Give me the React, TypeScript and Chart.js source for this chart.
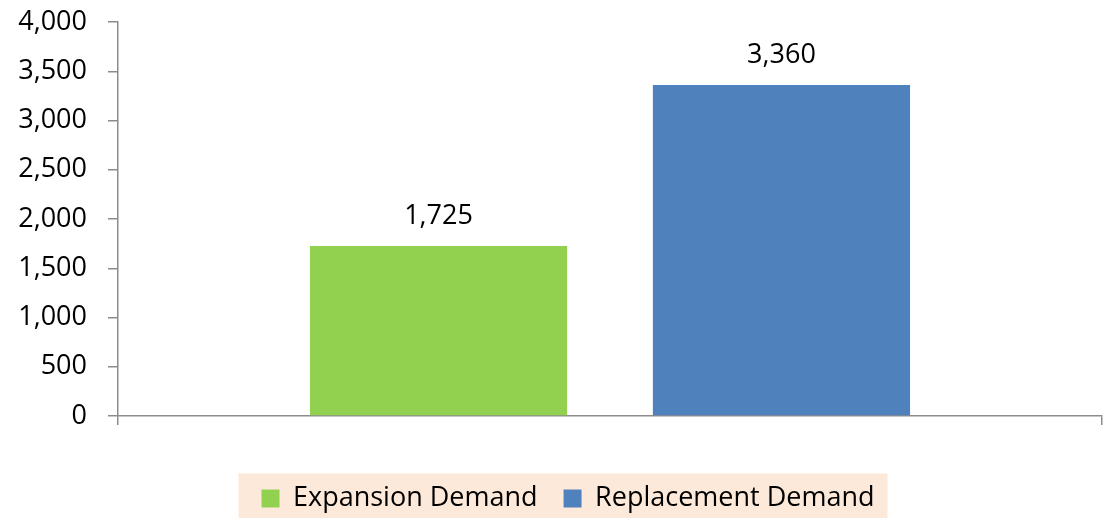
import React, { useEffect, useRef } from "react";
import { Chart, registerables } from "chart.js";

Chart.register(...registerables);

const categories = [""];
const seriesNames = ["Expansion Demand", "Replacement Demand"];
const expansionValues = [1725];
const replacementValues = [3360];
const seriesColors = ["#92D050", "#4F81BD"];
const yTicks = [0, 500, 1000, 1500, 2000, 2500, 3000, 3500, 4000];

const FONT = "'Open Sans', Lato, sans-serif";
const AXIS = "#8C8C8C";
const FS = 27;

const fmt = (v: number) => v.toLocaleString("en-US");

const legendShift = {
  id: "legendShift",
  afterLayout(chart: any) {
    const lg = chart.legend;
    if (!lg) return;
    lg.left += 17;
    lg.right += 17;
    lg.top += 4;
    lg.bottom += 4;
  },
};

const legendBg = {
  id: "legendBg",
  beforeDraw(chart: any) {
    const lg = chart.legend;
    if (!lg || !lg.legendHitBoxes || !lg.legendHitBoxes.length) return;
    const hb = lg.legendHitBoxes;
    const left = Math.min(...hb.map((b: any) => b.left)) - 23;
    const right = Math.max(...hb.map((b: any) => b.left + b.width)) + 13;
    const cy = hb[0].top + hb[0].height / 2;
    const ctx = chart.ctx;
    ctx.save();
    ctx.fillStyle = "#FDE9D9";
    ctx.fillRect(left, cy - 25, right - left, chart.height - (cy - 25));
    ctx.restore();
  },
};

const barLabels = {
  id: "barLabels",
  afterDatasetsDraw(chart: any) {
    const ctx = chart.ctx;
    ctx.save();
    ctx.font = `${FS}px ${FONT}`;
    ctx.fillStyle = "#000";
    ctx.textAlign = "center";
    ctx.textBaseline = "middle";
    chart.data.datasets.forEach((ds: any, i: number) => {
      const meta = chart.getDatasetMeta(i);
      meta.data.forEach((el: any, j: number) => {
        ctx.fillText(fmt(ds.data[j]), el.x, el.y - 30);
      });
    });
    ctx.restore();
  },
};

export default function App() {
  const ref = useRef<HTMLCanvasElement | null>(null);
  useEffect(() => {
    document.body.style.margin = "0";
    const chart = new Chart(ref.current as HTMLCanvasElement, {
      type: "bar",
      data: {
        labels: categories,
        datasets: [
          { label: seriesNames[0], data: expansionValues, backgroundColor: seriesColors[0] },
          { label: seriesNames[1], data: replacementValues, backgroundColor: seriesColors[1] },
        ],
      },
      options: {
        animation: false,
        responsive: false,
        maintainAspectRatio: false,
        layout: { padding: { top: 22, right: 3, left: 0, bottom: 0 } },
        datasets: { bar: { categoryPercentage: 0.697, barPercentage: 0.75 } },
        plugins: {
          tooltip: { enabled: false },
          legend: {
            position: "bottom",
            labels: {
              font: { family: FONT, size: FS },
              color: "#000",
              boxWidth: 18,
              boxHeight: 18,
              padding: 26,
            },
          },
        },
        scales: {
          x: {
            grid: { display: true, drawOnChartArea: false, drawTicks: true, tickLength: 9, color: AXIS, lineWidth: 1.5 },
            border: { color: AXIS, width: 1.5 },
            ticks: { display: false },
            afterFit: (s: any) => { s.height = 39; },
          },
          y: {
            min: 0,
            max: 4000,
            afterBuildTicks: (s: any) => { s.ticks = yTicks.map((v) => ({ value: v })); },
            grid: { display: true, drawOnChartArea: false, drawTicks: true, tickLength: 10, color: AXIS, lineWidth: 1.5 },
            border: { color: AXIS, width: 1.5 },
            ticks: { font: { family: FONT, size: FS }, color: "#000", padding: 21, callback: (v: any) => fmt(Number(v)) },
            afterFit: (s: any) => { s.width = 118; s.paddingTop = 0; },
          },
        },
      },
      plugins: [legendShift, legendBg, barLabels],
    });
    return () => chart.destroy();
  }, []);
  return (
    <div style={{ width: 1105, height: 518 }}>
      <canvas ref={ref} width={1105} height={518} style={{ display: "block" }} />
    </div>
  );
}
